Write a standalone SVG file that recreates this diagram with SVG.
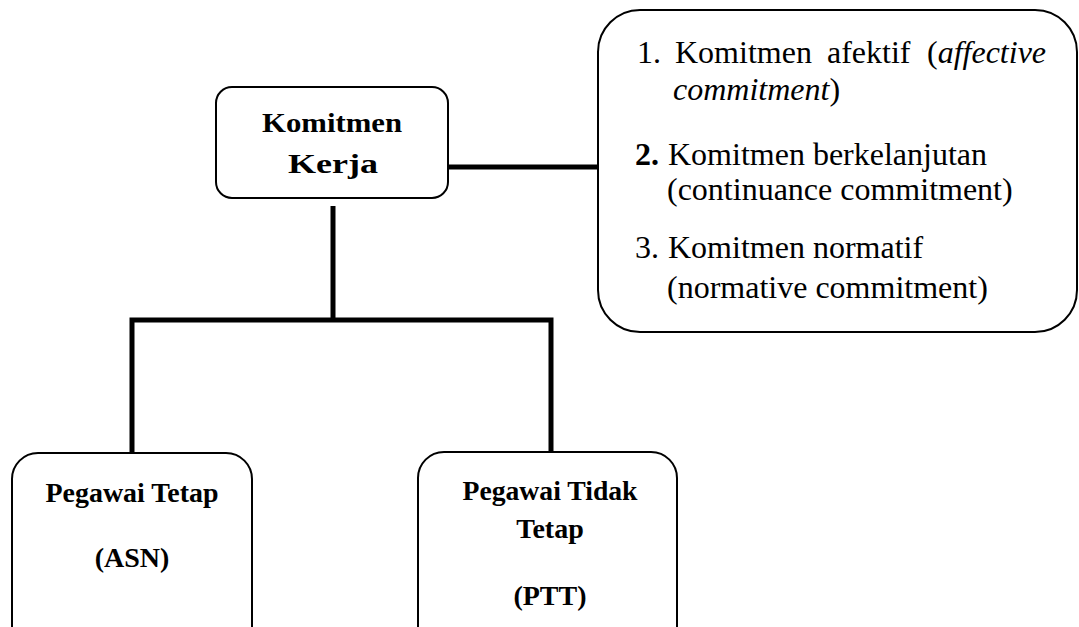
<svg xmlns="http://www.w3.org/2000/svg" width="1079" height="627" viewBox="0 0 1079 627">
<style>
.box{fill:#fff;stroke:#000;stroke-width:2}
.con{fill:none;stroke:#000;stroke-width:5;stroke-linecap:butt}
.b{font-family:'Liberation Serif','Times New Roman','DejaVu Serif',Times,serif;font-weight:bold;font-size:28px;fill:#000;text-anchor:middle}
.r{font-family:'Liberation Serif','Times New Roman','DejaVu Serif',Times,serif;font-size:32px;fill:#000}
</style>
<rect width="1079" height="627" fill="#fff"/>
<g id="connectors">
<line class="con" x1="448" y1="167" x2="598" y2="167"/>
<line class="con" x1="333" y1="206" x2="333" y2="320"/>
<polyline class="con" points="132,454 132,320 551,320 551,453"/>
</g>
<g id="komitmen-kerja">
<rect class="box" x="216" y="87" width="232" height="111" rx="16"/>
<text class="b" x="332" y="132" textLength="140" lengthAdjust="spacingAndGlyphs">Komitmen</text>
<text class="b" x="333" y="173" textLength="90" lengthAdjust="spacingAndGlyphs">Kerja</text>
</g>
<g id="jenis-komitmen">
<rect class="box" x="598" y="10" width="479" height="322" rx="42"/>
<text class="r" y="63"><tspan x="637">1.</tspan><tspan x="675">Komitmen</tspan><tspan x="827">afektif</tspan><tspan x="927">(</tspan><tspan font-style="italic">affective</tspan></text>
<text class="r" y="100"><tspan x="673" font-style="italic">commitment</tspan>)</text>
<text class="r" y="165"><tspan x="635" font-weight="bold">2.</tspan><tspan x="668">Komitmen berkelanjutan</tspan></text>
<text class="r" x="667" y="200">(continuance commitment)</text>
<text class="r" y="258"><tspan x="635">3.</tspan><tspan x="668">Komitmen normatif</tspan></text>
<text class="r" x="667" y="298">(normative commitment)</text>
</g>
<g id="pegawai-tetap">
<rect class="box" x="12" y="453" width="240" height="200" rx="26"/>
<text class="b" x="132" y="502" textLength="173" lengthAdjust="spacingAndGlyphs">Pegawai Tetap</text>
<text class="b" x="132" y="567">(ASN)</text>
</g>
<g id="pegawai-tidak-tetap">
<rect class="box" x="418" y="452" width="259" height="200" rx="26"/>
<text class="b" x="550" y="500" textLength="175" lengthAdjust="spacingAndGlyphs">Pegawai Tidak</text>
<text class="b" x="550" y="538">Tetap</text>
<text class="b" x="550" y="605">(PTT)</text>
</g>
</svg>
